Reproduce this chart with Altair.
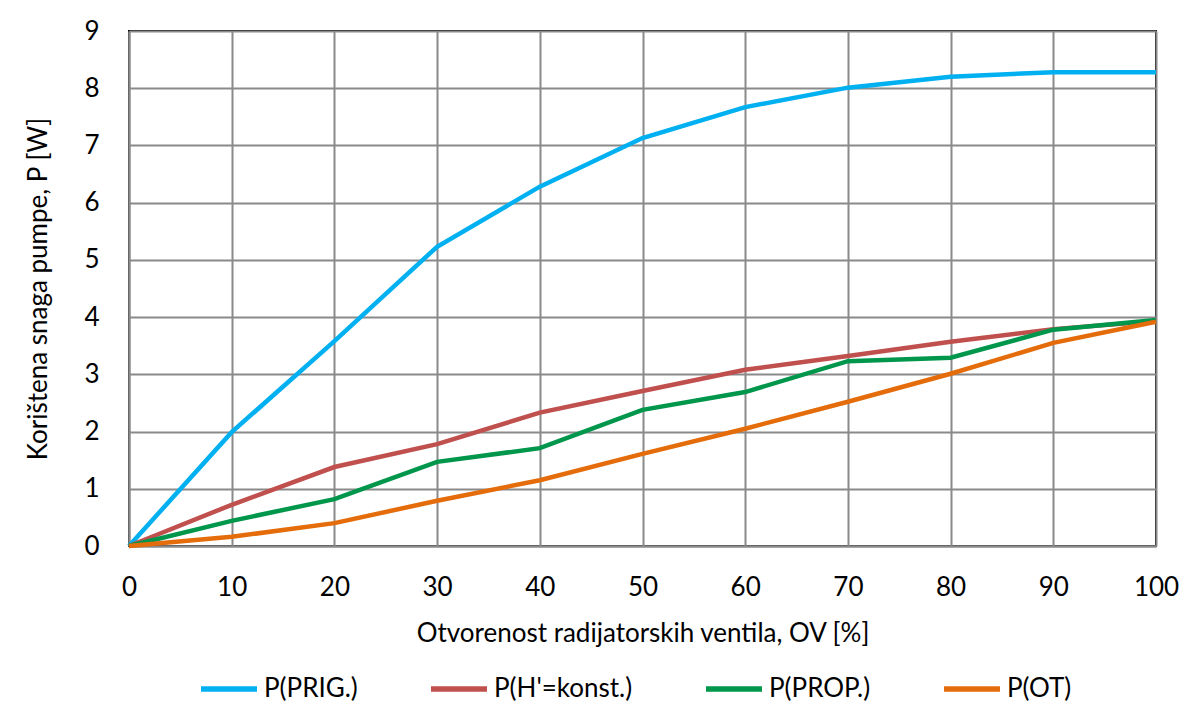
import altair as alt
import pandas as pd

ov = [0, 10, 20, 30, 40, 50, 60, 70, 80, 90, 100]
p_prig = [0.0, 1.99, 3.58, 5.23, 6.28, 7.13, 7.67, 8.01, 8.20, 8.28, 8.28]
p_hkonst = [0.0, 0.72, 1.38, 1.78, 2.33, 2.71, 3.08, 3.32, 3.57, 3.79, 3.93]
p_prop = [0.0, 0.44, 0.82, 1.47, 1.71, 2.38, 2.69, 3.23, 3.29, 3.78, 3.95]
p_ot = [0.0, 0.16, 0.40, 0.79, 1.15, 1.61, 2.05, 2.52, 3.01, 3.55, 3.92]

series_names = ["P(PRIG.)", "P(H'=konst.)", "P(PROP.)", "P(OT)"]
series_vals = [p_prig, p_hkonst, p_prop, p_ot]
colors = ["#00B0F0", "#C0504D", "#00964B", "#E46C0A"]

rows = []
for name, vals in zip(series_names, series_vals):
    for x, y in zip(ov, vals):
        rows.append({"OV": x, "P": y, "serija": name})
df = pd.DataFrame(rows)

FONT = "Lato"
FS = 26

chart = alt.Chart(df).mark_line(strokeWidth=4.5, strokeCap="butt").encode(
    x=alt.X("OV:Q", scale=alt.Scale(domain=[0, 100], nice=False),
            axis=alt.Axis(values=ov, title="Otvorenost radijatorskih ventila, OV [%]",
                          titlePadding=20, labelPadding=28, labelFlush=False)),
    y=alt.Y("P:Q", scale=alt.Scale(domain=[0, 9], nice=False),
            axis=alt.Axis(values=list(range(10)), title="Korištena snaga pumpe, P [W]",
                          titlePadding=32, labelPadding=30, labelFlush=False)),
    color=alt.Color("serija:N",
                    scale=alt.Scale(domain=series_names, range=colors),
                    sort=series_names,
                    legend=alt.Legend(title=None, orient="none", direction="horizontal",
                                      legendX=69, legendY=627,
                                      symbolType="stroke", symbolStrokeWidth=5.5,
                                      symbolSize=3136, columnPadding=62, labelOffset=4,
                                      labelFontSize=FS, labelFont=FONT)),
    order=alt.Order("OV:Q"),
).properties(
    width=1027, height=515,
    padding={"left": 17, "top": 10, "right": 0, "bottom": 0},
).configure_axis(
    labelFont=FONT, titleFont=FONT, labelFontSize=FS, titleFontSize=FS,
    labelColor="#000000", titleColor="#000000", titleFontWeight="normal",
    gridColor="#8a8a8a", gridWidth=2, domainColor="#8a8a8a", domainWidth=2,
    ticks=False,
).configure_view(
    stroke="#000000", strokeWidth=2,
)

chart.save("out.html", embed_options={"renderer": "svg", "actions": False})
